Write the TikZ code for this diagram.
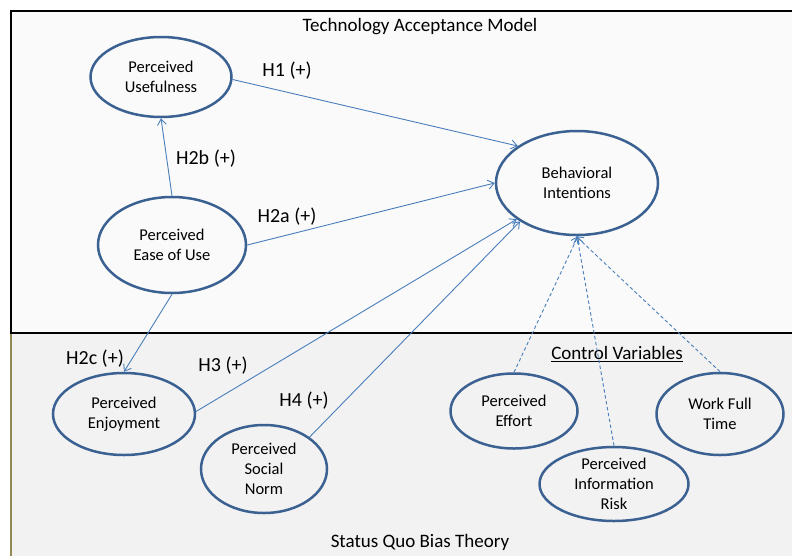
\documentclass[tikz,border=0pt]{standalone}
\usepackage{fontspec}
\setmainfont{Carlito}
\usetikzlibrary{arrows.meta,shapes.geometric}
\definecolor{ellc}{HTML}{3A6191}
\definecolor{arrc}{HTML}{4A7EBB}
\definecolor{topbg}{HTML}{FAFAFA}
\definecolor{botbg}{HTML}{F2F2F2}
\definecolor{olive}{HTML}{938953}
\tikzset{
  construct/.style={ellipse, draw=ellc, line width=2.5pt, inner sep=0pt},
  ctext/.style={align=center, font=\fontsize{16.5}{20}\selectfont, text=black},
  hyp/.style={font=\fontsize{20}{24}\selectfont, inner sep=0pt},
  ttl/.style={font=\fontsize{19}{23}\selectfont, inner sep=0pt},
  link/.style={draw=arrc, line width=0.9pt, -{Straight Barb[length=6pt,width=9pt]}},
  ctrl/.style={link, dash pattern=on 3.5pt off 2.5pt}
}
\begin{document}
\begin{tikzpicture}[x=1pt,y=-1pt]
\useasboundingbox (0,0) rectangle (792,555);
\fill[white] (0,0) rectangle (792,555);
% regions
\fill[botbg] (11,333) rectangle (800,560);
\draw[olive, line width=1.5pt] (11,333) -- (11,560);
\fill[topbg] (11,11) rectangle (800,333);
\draw[black, line width=2.2pt] (800,11) -- (11,11) -- (11,333) -- (800,333);
% titles
\node[ttl] (tam) at (420,27) {Technology Acceptance Model};
\node[ttl] (sqb) at (420,542) {Status Quo Bias Theory};
\node[ttl] (cv) at (617,354) {\underline{Control Variables}};
% constructs
\node[construct, minimum width=141pt, minimum height=80pt,
  label={[ctext]center:Perceived\\Usefulness}] (pu) at (161,77) {};
\node[construct, minimum width=148pt, minimum height=96pt,
  label={[ctext]center:Perceived\\Ease of Use}] (peou) at (172,245) {};
\node[construct, minimum width=162pt, minimum height=104pt,
  label={[ctext]center:Behavioral\\Intentions}] (bi) at (577,183) {};
\node[construct, minimum width=142pt, minimum height=82pt,
  label={[ctext]center:Perceived\\Enjoyment}] (enj) at (124,414) {};
\node[construct, minimum width=126pt, minimum height=88pt,
  label={[ctext]center:Perceived\\Social\\Norm}] (sn) at (264,469) {};
\node[construct, minimum width=127pt, minimum height=75pt,
  label={[ctext]center:Perceived\\Effort}] (eff) at (514,411) {};
\node[construct, minimum width=149pt, minimum height=74pt,
  label={[ctext]center:Perceived\\Information\\Risk}] (risk) at (614,484) {};
\node[construct, minimum width=127pt, minimum height=82pt,
  label={[ctext]center:Work Full\\Time}] (work) at (720,414) {};
% hypotheses
\draw[link] (pu.-2) -- (bi.148);
\draw[link] (peou.north) -- (pu.south);
\draw[link] (peou.east) -- (bi.180);
\draw[link] (peou.south) -- (enj.north);
\draw[link] (enj.2) -- (bi.211);
\draw[link] (sn.35) -- (bi.214);
% controls
\draw[ctrl] (eff.north) -- (bi.271);
\draw[ctrl] (risk.north) -- (bi.270);
\draw[ctrl] (work.north) -- (bi.269);
% labels
\node[hyp] (h1) at (287,71) {H1 (+)};
\node[hyp] (h2b) at (206,159) {H2b (+)};
\node[hyp] (h2a) at (287,217) {H2a (+)};
\node[hyp] (h2c) at (95,359) {H2c (+)};
\node[hyp] (h3) at (223,366) {H3 (+)};
\node[hyp] (h4) at (304,401) {H4 (+)};
\end{tikzpicture}
\end{document}
